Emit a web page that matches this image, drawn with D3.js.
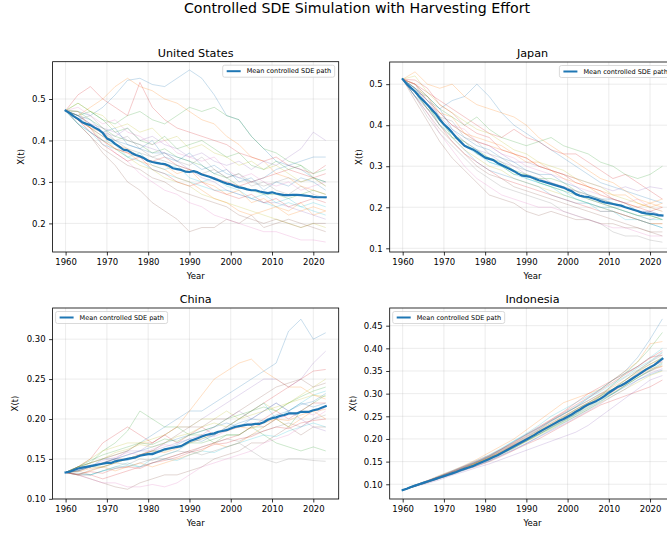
<!doctype html>
<html>
<head>
<meta charset="utf-8">
<title>Controlled SDE Simulation with Harvesting Effort</title>
<script src="https://cdn.jsdelivr.net/npm/d3@7"></script>
<style>
    body { margin: 0; background: #fff; }
    svg { font-family: "DejaVu Sans", sans-serif; display: block; }
</style>
</head>
<body>
<svg id="chart" width="667" height="533"></svg>
<script>
// years for the mean path (yearly) and for the sampled simulation paths (every 3 years)
const years = d3.range(1960, 2024);
const pathYears = d3.range(1960, 2024, 3);

const usMean = [
    .472,.466,.458,.452,.444,.440,.437,.431,.426,.418,
    .405,.400,.392,.385,.378,.376,.370,.365,.362,.357,
    .351,.348,.346,.344,.343,.339,.333,.331,.329,.325,
    .324,.326,.323,.318,.315,.312,.308,.304,.300,.296,
    .294,.290,.287,.285,.282,.280,.280,.277,.275,.273,
    .275,.272,.270,.268,.268,.269,.269,.268,.267,.266,
    .264,.263,.263,.263];
const usPaths = [
    [.472,.47,.46,.48,.51,.545,.55,.535,.53,.55,.57,.55,.51,.46,.45,.41,.38,.35,.34,.33,.31,.30],
    [.472,.46,.48,.50,.53,.55,.53,.52,.50,.49,.47,.45,.44,.41,.39,.36,.35,.32,.31,.29,.28,.27],
    [.472,.49,.47,.45,.44,.46,.47,.45,.44,.46,.48,.47,.48,.46,.45,.41,.38,.37,.35,.34,.31,.30],
    [.472,.51,.53,.50,.48,.46,.54,.48,.45,.43,.42,.41,.40,.39,.37,.36,.35,.36,.34,.33,.32,.34],
    [.472,.46,.44,.42,.41,.43,.40,.41,.39,.38,.36,.37,.35,.34,.35,.33,.35,.34,.36,.38,.42,.40],
    [.472,.44,.41,.37,.34,.30,.28,.25,.23,.21,.18,.19,.19,.21,.20,.22,.19,.20,.21,.20,.19,.18],
    [.472,.45,.42,.40,.37,.35,.32,.30,.28,.27,.25,.24,.22,.21,.20,.19,.18,.18,.17,.16,.16,.155],
    [.472,.46,.44,.42,.40,.38,.37,.36,.35,.34,.33,.32,.33,.31,.32,.30,.29,.30,.31,.30,.31,.29],
    [.472,.45,.43,.40,.38,.36,.34,.33,.31,.30,.29,.27,.26,.25,.24,.23,.22,.21,.20,.19,.20,.19],
    [.472,.44,.42,.39,.38,.36,.35,.33,.32,.31,.30,.29,.28,.28,.27,.26,.25,.24,.25,.24,.23,.22],
    [.472,.46,.43,.41,.40,.39,.38,.37,.37,.36,.35,.33,.34,.32,.31,.30,.31,.33,.34,.35,.36,.36],
    [.472,.45,.43,.41,.38,.37,.35,.34,.33,.31,.30,.28,.26,.25,.23,.22,.23,.24,.22,.23,.24,.23],
    [.472,.47,.45,.43,.41,.40,.39,.37,.38,.36,.35,.34,.32,.31,.29,.28,.27,.27,.26,.27,.28,.27],
    [.472,.45,.42,.40,.38,.37,.36,.35,.36,.34,.33,.32,.31,.30,.29,.30,.31,.32,.33,.32,.31,.32],
    [.472,.46,.44,.43,.42,.40,.39,.38,.37,.35,.33,.31,.30,.28,.27,.26,.25,.25,.24,.23,.22,.21],
    [.472,.44,.41,.38,.36,.34,.33,.31,.30,.28,.27,.26,.25,.24,.22,.21,.20,.21,.20,.19,.20,.20],
    [.472,.48,.46,.44,.45,.42,.41,.39,.40,.37,.36,.35,.36,.33,.31,.32,.30,.29,.30,.28,.29,.30],
    [.472,.45,.46,.43,.40,.41,.38,.36,.37,.35,.34,.36,.33,.31,.32,.29,.30,.28,.27,.29,.27,.26],
    [.472,.49,.47,.46,.43,.44,.42,.43,.40,.41,.38,.39,.37,.36,.34,.35,.33,.34,.32,.30,.31,.29],
    [.472,.44,.42,.40,.39,.36,.37,.34,.33,.34,.31,.30,.31,.29,.28,.26,.27,.25,.26,.24,.25,.24],
    [.472,.46,.45,.42,.43,.39,.38,.40,.36,.35,.37,.34,.32,.33,.30,.31,.28,.30,.29,.31,.30,.28],
    [.472,.47,.43,.42,.39,.38,.36,.35,.34,.32,.33,.30,.29,.27,.28,.25,.26,.24,.23,.25,.22,.23],
    [.472,.46,.47,.45,.42,.43,.40,.39,.41,.38,.39,.40,.38,.36,.37,.34,.33,.35,.33,.34,.32,.33],
    [.472,.45,.43,.39,.37,.35,.36,.33,.32,.30,.29,.30,.28,.27,.26,.27,.25,.26,.24,.25,.26,.25]
];

const jpMean = [
    .512,.500,.491,.482,.470,.460,.450,.439,.428,.414,
    .402,.393,.382,.370,.360,.350,.345,.341,.335,.328,
    .321,.318,.315,.308,.303,.298,.293,.288,.282,.277,
    .276,.274,.270,.266,.263,.260,.257,.254,.251,.248,
    .243,.239,.232,.228,.226,.225,.222,.219,.215,.212,
    .210,.208,.206,.204,.200,.197,.194,.191,.187,.185,
    .184,.183,.181,.180];
const jpPaths = [
    [.512,.50,.47,.44,.46,.47,.50,.47,.43,.40,.38,.36,.34,.32,.30,.28,.26,.25,.24,.23,.22,.21],
    [.512,.53,.50,.49,.50,.47,.45,.44,.43,.42,.40,.37,.35,.33,.31,.29,.27,.26,.24,.22,.21,.22],
    [.512,.49,.47,.44,.42,.40,.42,.39,.37,.36,.35,.36,.37,.35,.34,.33,.31,.30,.28,.27,.28,.30],
    [.512,.50,.48,.46,.44,.42,.40,.38,.37,.39,.37,.36,.34,.33,.33,.31,.29,.27,.28,.26,.24,.22],
    [.512,.49,.46,.43,.40,.38,.36,.35,.33,.31,.31,.30,.29,.28,.27,.26,.25,.24,.25,.24,.25,.245],
    [.512,.46,.41,.36,.32,.29,.26,.23,.22,.21,.19,.18,.19,.18,.17,.17,.16,.16,.15,.15,.14,.14],
    [.512,.47,.43,.38,.34,.30,.27,.25,.23,.22,.21,.20,.20,.19,.18,.17,.16,.15,.15,.14,.13,.13],
    [.512,.47,.42,.38,.35,.32,.29,.27,.25,.24,.23,.22,.21,.19,.18,.17,.16,.14,.13,.13,.12,.115],
    [.512,.48,.45,.40,.37,.34,.32,.30,.29,.27,.26,.25,.24,.23,.22,.21,.20,.19,.18,.17,.16,.16],
    [.512,.48,.44,.41,.38,.35,.33,.31,.30,.28,.27,.26,.25,.24,.22,.21,.20,.20,.19,.18,.17,.17],
    [.512,.47,.44,.40,.37,.34,.31,.29,.28,.27,.26,.25,.23,.22,.21,.21,.20,.19,.18,.17,.16,.15],
    [.512,.50,.46,.43,.40,.38,.36,.35,.34,.33,.32,.30,.29,.27,.26,.25,.23,.22,.21,.20,.21,.20],
    [.512,.49,.45,.41,.38,.36,.34,.32,.31,.29,.28,.27,.27,.26,.24,.23,.22,.21,.20,.19,.18,.17],
    [.512,.48,.44,.40,.36,.33,.31,.29,.27,.26,.25,.24,.23,.22,.21,.20,.19,.19,.18,.17,.16,.16],
    [.512,.49,.46,.42,.39,.36,.34,.33,.31,.30,.28,.27,.26,.25,.24,.23,.22,.21,.20,.19,.19,.18],
    [.512,.47,.43,.39,.36,.33,.30,.28,.27,.25,.24,.23,.22,.21,.20,.19,.18,.17,.16,.15,.14,.13],
    [.512,.50,.45,.43,.40,.39,.36,.35,.33,.32,.30,.29,.28,.27,.25,.24,.23,.22,.21,.22,.20,.19],
    [.512,.48,.47,.42,.41,.37,.36,.33,.32,.30,.29,.28,.26,.25,.24,.22,.21,.20,.19,.18,.17,.18],
    [.512,.52,.48,.45,.43,.41,.39,.38,.36,.34,.33,.31,.30,.29,.27,.26,.25,.23,.22,.21,.20,.19],
    [.512,.47,.45,.40,.38,.35,.34,.31,.30,.29,.27,.26,.25,.23,.22,.21,.19,.19,.17,.17,.16,.15],
    [.512,.49,.46,.44,.39,.37,.35,.34,.32,.31,.29,.28,.28,.26,.25,.23,.22,.22,.21,.19,.19,.18],
    [.512,.50,.47,.43,.42,.38,.37,.36,.35,.33,.31,.31,.29,.28,.27,.25,.24,.23,.23,.21,.20,.21],
    [.512,.48,.44,.42,.37,.36,.33,.32,.30,.28,.28,.26,.25,.24,.23,.22,.21,.20,.19,.18,.18,.17],
    [.512,.51,.49,.45,.43,.40,.38,.37,.34,.33,.32,.30,.29,.28,.26,.25,.24,.22,.21,.20,.19,.20]
];

const cnMean = [
    .133,.134,.136,.138,.139,.140,.141,.142,.143,.144,
    .145,.145,.147,.148,.149,.150,.151,.152,.154,.155,
    .156,.156,.158,.160,.162,.163,.164,.165,.166,.169,
    .172,.174,.176,.178,.180,.181,.182,.184,.185,.186,
    .188,.190,.191,.192,.193,.193,.194,.194,.196,.199,
    .201,.202,.204,.205,.207,.207,.207,.209,.209,.209,
    .211,.212,.214,.216];
const cnPaths = [
    [.133,.135,.14,.15,.155,.16,.17,.18,.19,.20,.21,.21,.22,.23,.24,.25,.26,.27,.31,.325,.30,.308],
    [.133,.14,.145,.15,.155,.16,.17,.17,.18,.19,.21,.23,.25,.26,.27,.275,.26,.25,.24,.24,.23,.225],
    [.133,.14,.145,.16,.17,.185,.21,.20,.19,.19,.18,.18,.17,.18,.18,.19,.19,.20,.19,.21,.22,.23],
    [.133,.14,.15,.17,.18,.19,.18,.17,.18,.17,.18,.19,.18,.19,.20,.21,.22,.23,.24,.25,.26,.262],
    [.133,.135,.14,.145,.15,.16,.16,.17,.18,.19,.19,.20,.21,.22,.23,.24,.25,.25,.24,.25,.27,.285],
    [.133,.13,.125,.12,.115,.112,.12,.125,.13,.13,.135,.14,.15,.155,.16,.17,.17,.18,.19,.18,.19,.19],
    [.133,.13,.125,.12,.12,.115,.115,.118,.115,.12,.13,.14,.145,.15,.155,.16,.17,.175,.18,.19,.20,.21],
    [.133,.135,.13,.135,.14,.14,.145,.15,.15,.155,.16,.155,.16,.165,.17,.16,.15,.145,.15,.15,.148,.147],
    [.133,.14,.15,.16,.165,.17,.17,.175,.18,.19,.19,.20,.20,.21,.20,.21,.22,.21,.22,.23,.24,.25],
    [.133,.13,.13,.135,.14,.145,.14,.15,.155,.16,.17,.175,.18,.19,.20,.21,.22,.20,.21,.22,.23,.235],
    [.133,.14,.145,.15,.15,.155,.16,.165,.17,.175,.18,.185,.19,.195,.19,.20,.21,.22,.21,.22,.215,.22],
    [.133,.13,.135,.14,.135,.14,.145,.14,.145,.15,.155,.16,.17,.165,.17,.18,.19,.20,.19,.20,.21,.20],
    [.133,.135,.14,.14,.145,.15,.155,.16,.16,.165,.17,.17,.175,.18,.18,.19,.18,.17,.165,.16,.165,.16],
    [.133,.13,.13,.125,.13,.135,.14,.145,.15,.155,.16,.165,.17,.175,.18,.19,.20,.21,.20,.21,.22,.22],
    [.133,.135,.14,.145,.15,.155,.16,.16,.165,.17,.175,.18,.19,.20,.21,.20,.21,.22,.21,.20,.19,.185],
    [.133,.14,.14,.145,.15,.15,.155,.16,.17,.18,.19,.19,.20,.20,.21,.22,.23,.24,.245,.25,.24,.245],
    [.133,.137,.14,.148,.152,.158,.155,.162,.168,.165,.172,.18,.178,.185,.19,.195,.19,.20,.205,.21,.205,.215],
    [.133,.13,.136,.14,.145,.143,.15,.148,.155,.16,.158,.165,.17,.175,.172,.18,.185,.19,.195,.19,.20,.205],
    [.133,.138,.145,.15,.158,.162,.168,.165,.17,.178,.182,.19,.195,.19,.20,.205,.21,.215,.22,.225,.23,.228],
    [.133,.132,.13,.135,.138,.142,.14,.145,.15,.148,.155,.16,.158,.165,.17,.175,.18,.178,.185,.19,.195,.19],
    [.133,.136,.142,.145,.15,.148,.155,.158,.162,.168,.175,.172,.18,.188,.195,.20,.198,.205,.21,.218,.222,.232],
    [.133,.134,.138,.14,.145,.15,.155,.16,.158,.163,.17,.175,.182,.185,.19,.188,.195,.20,.198,.205,.21,.212],
    [.133,.14,.148,.155,.16,.165,.17,.168,.175,.172,.18,.185,.19,.20,.205,.21,.215,.21,.22,.228,.235,.24],
    [.133,.131,.134,.132,.138,.14,.138,.145,.148,.152,.158,.162,.168,.17,.175,.178,.185,.19,.188,.195,.198,.20]
];

const idMean = [
    .087,.090,.094,.097,.100,.103,.106,.109,.112,.115,
    .118,.121,.124,.127,.131,.134,.137,.140,.144,.148,
    .152,.156,.160,.164,.169,.174,.179,.184,.189,.194,
    .199,.204,.209,.215,.220,.225,.230,.235,.240,.244,
    .249,.254,.260,.265,.271,.276,.280,.284,.289,.295,
    .302,.308,.314,.318,.323,.329,.335,.341,.347,.353,
    .358,.363,.370,.377];
const idPaths = [
    [.087,.097,.106,.118,.128,.14,.15,.162,.178,.195,.21,.225,.24,.255,.27,.29,.31,.33,.35,.38,.42,.465],
    [.087,.098,.108,.12,.13,.142,.155,.17,.185,.20,.22,.24,.26,.28,.29,.30,.31,.33,.35,.37,.41,.415],
    [.087,.096,.105,.115,.124,.134,.145,.155,.168,.18,.195,.21,.225,.24,.255,.275,.295,.32,.345,.37,.40,.435],
    [.087,.096,.104,.113,.122,.132,.14,.15,.162,.175,.188,.20,.215,.23,.245,.26,.275,.285,.295,.305,.315,.33],
    [.087,.095,.102,.11,.12,.128,.137,.145,.155,.165,.175,.185,.195,.205,.215,.23,.25,.27,.29,.31,.33,.34],
    [.087,.097,.106,.116,.126,.137,.148,.16,.175,.19,.205,.22,.24,.255,.27,.285,.30,.31,.325,.345,.36,.37],
    [.087,.097,.105,.114,.124,.134,.144,.154,.168,.182,.196,.212,.228,.242,.258,.275,.29,.305,.32,.34,.35,.36],
    [.087,.098,.107,.117,.127,.138,.149,.16,.174,.188,.203,.22,.235,.25,.265,.28,.296,.31,.33,.35,.37,.39],
    [.087,.097,.105,.114,.123,.133,.143,.153,.166,.18,.194,.208,.222,.236,.25,.265,.28,.295,.31,.325,.34,.35],
    [.087,.098,.108,.119,.13,.141,.153,.165,.18,.196,.212,.23,.25,.265,.28,.295,.31,.33,.345,.36,.38,.40],
    [.087,.096,.104,.113,.122,.131,.141,.151,.164,.177,.19,.205,.22,.235,.25,.265,.282,.30,.318,.335,.35,.365],
    [.087,.097,.106,.116,.126,.136,.147,.158,.172,.186,.20,.216,.232,.247,.262,.278,.293,.308,.325,.34,.355,.36],
    [.087,.096,.105,.115,.125,.135,.146,.157,.17,.185,.20,.217,.232,.248,.265,.28,.295,.31,.33,.35,.365,.38],
    [.087,.097,.107,.117,.128,.139,.15,.162,.177,.193,.21,.227,.243,.26,.28,.30,.315,.33,.345,.36,.38,.385],
    [.087,.096,.104,.114,.124,.133,.142,.152,.164,.176,.19,.204,.218,.232,.247,.262,.278,.295,.31,.33,.345,.355],
    [.087,.098,.107,.117,.127,.137,.148,.16,.173,.187,.20,.215,.23,.245,.26,.275,.29,.305,.325,.34,.36,.375],
    [.087,.097,.107,.116,.127,.137,.146,.158,.17,.186,.20,.214,.23,.246,.262,.277,.29,.306,.322,.342,.358,.372],
    [.087,.096,.105,.116,.125,.137,.149,.162,.176,.19,.206,.222,.238,.254,.27,.284,.30,.318,.336,.352,.37,.385],
    [.087,.097,.106,.115,.124,.135,.147,.159,.171,.184,.198,.213,.227,.243,.258,.272,.289,.302,.318,.336,.35,.362],
    [.087,.098,.107,.117,.128,.138,.15,.163,.178,.194,.21,.224,.24,.256,.272,.29,.305,.322,.338,.357,.372,.392],
    [.087,.096,.106,.115,.125,.134,.144,.156,.168,.18,.196,.21,.226,.24,.255,.27,.287,.30,.315,.33,.342,.352],
    [.087,.097,.106,.117,.126,.137,.148,.158,.172,.188,.202,.218,.235,.25,.266,.28,.298,.315,.33,.347,.365,.378],
    [.087,.096,.105,.114,.124,.134,.145,.157,.17,.183,.196,.21,.224,.238,.253,.268,.284,.30,.318,.335,.352,.368],
    [.087,.098,.108,.118,.129,.14,.152,.164,.178,.192,.208,.224,.242,.258,.275,.292,.308,.325,.342,.36,.378,.395]
];

const xTicks = [1960, 1970, 1980, 1990, 2000, 2010, 2020];

const panels = [
    {title: "United States", mean: usMean, paths: usPaths, yTicks: [0.2, 0.3, 0.4, 0.5], fmt: ".1f",
     box: [52.6, 338.7, 61.7, 252], yDomain: [0.131, 0.590], legend: "right", ylabX: 21},
    {title: "Japan", mean: jpMean, paths: jpPaths, yTicks: [0.1, 0.2, 0.3, 0.4, 0.5], fmt: ".1f",
     box: [389.7, 675.4, 62, 252], yDomain: [0.091, 0.554], legend: "right", ylabX: 359},
    {title: "China", mean: cnMean, paths: cnPaths, yTicks: [0.10, 0.15, 0.20, 0.25, 0.30], fmt: ".2f",
     box: [52.6, 338.7, 308, 499], yDomain: [0.0998, 0.339], legend: "left", ylabX: 15},
    {title: "Indonesia", mean: idMean, paths: idPaths, yTicks: [0.10, 0.15, 0.20, 0.25, 0.30, 0.35, 0.40, 0.45], fmt: ".2f",
     box: [389.7, 675.4, 308, 499], yDomain: [0.0675, 0.489], legend: "left", ylabX: 353}
];

const tab10 = d3.schemeCategory10;

const svg = d3.select("#chart");

svg.append("text")
    .attr("x", 357).attr("y", 12.5)
    .attr("text-anchor", "middle")
    .attr("font-size", 14.2)
    .attr("fill", "#000")
    .text("Controlled SDE Simulation with Harvesting Effort");

panels.forEach((p, k) => {
    const [x0, x1, y0, y1] = p.box;
    const x = d3.scaleLinear().domain([1956.85, 2026.15]).range([x0, x1]);
    const y = d3.scaleLinear().domain(p.yDomain).range([y1, y0]);

    const g = svg.append("g");
    const clipId = "clip" + k;
    g.append("clipPath").attr("id", clipId)
        .append("rect").attr("x", x0).attr("y", y0).attr("width", x1 - x0).attr("height", y1 - y0);

    // grid
    g.append("g").selectAll("line").data(xTicks).join("line")
        .attr("x1", d => x(d)).attr("x2", d => x(d)).attr("y1", y0).attr("y2", y1)
        .attr("stroke", "#b0b0b0").attr("stroke-opacity", 0.3).attr("stroke-width", 0.8);
    g.append("g").selectAll("line").data(p.yTicks).join("line")
        .attr("x1", x0).attr("x2", x1).attr("y1", d => y(d)).attr("y2", d => y(d))
        .attr("stroke", "#b0b0b0").attr("stroke-opacity", 0.3).attr("stroke-width", 0.8);

    const plot = g.append("g").attr("clip-path", `url(#${clipId})`);

    const pathLine = d3.line().x((d, i) => x(pathYears[i])).y(d => y(d));
    plot.append("g").selectAll("path").data(p.paths).join("path")
        .attr("d", pathLine)
        .attr("fill", "none")
        .attr("stroke", (d, i) => tab10[i % 10])
        .attr("stroke-opacity", 0.3)
        .attr("stroke-width", 0.8);

    const meanLine = d3.line().x((d, i) => x(years[i])).y(d => y(d));
    plot.append("path").datum(p.mean)
        .attr("d", meanLine)
        .attr("fill", "none")
        .attr("stroke", "#1f77b4")
        .attr("stroke-width", 2.2)
        .attr("stroke-linejoin", "round")
        .attr("stroke-linecap", "square");

    // axes
    const xAxis = g.append("g").attr("transform", `translate(0,${y1})`)
        .call(d3.axisBottom(x).tickValues(xTicks).tickFormat(d3.format("d")).tickSize(3.5).tickPadding(3));
    const yAxis = g.append("g").attr("transform", `translate(${x0},0)`)
        .call(d3.axisLeft(y).tickValues(p.yTicks).tickFormat(d3.format(p.fmt)).tickSize(3.5).tickPadding(3.5));
    [xAxis, yAxis].forEach(a => {
        a.select(".domain").remove();
        a.selectAll("text").attr("font-size", 8.5).attr("font-family", "DejaVu Sans").attr("fill", "#000");
        a.selectAll("line").attr("stroke", "#000").attr("stroke-width", 0.8);
    });

    g.append("rect")
        .attr("x", x0).attr("y", y0).attr("width", x1 - x0).attr("height", y1 - y0)
        .attr("fill", "none").attr("stroke", "#000").attr("stroke-width", 0.8);

    g.append("text")
        .attr("x", (x0 + x1) / 2).attr("y", y0 - 5)
        .attr("text-anchor", "middle").attr("font-size", 11.2)
        .text(p.title);

    g.append("text")
        .attr("x", (x0 + x1) / 2).attr("y", y1 + 27)
        .attr("text-anchor", "middle").attr("font-size", 8.5)
        .text("Year");

    g.append("text")
        .attr("transform", `translate(${p.ylabX},${(y0 + y1) / 2}) rotate(-90)`)
        .attr("text-anchor", "middle").attr("dy", "0.35em").attr("font-size", 8.5)
        .text("X(t)");

    // legend
    const lw = 112, lh = 12;
    const lx = p.legend === "right" ? x1 - 4 - lw : x0 + 3;
    const ly = y0 + 3.5;
    const leg = g.append("g").attr("transform", `translate(${lx},${ly})`);
    leg.append("rect").attr("width", lw).attr("height", lh).attr("rx", 2)
        .attr("fill", "#fff").attr("fill-opacity", 0.8)
        .attr("stroke", "#d0d0d0").attr("stroke-width", 0.8);
    leg.append("line").attr("x1", 4).attr("x2", 18).attr("y1", lh / 2).attr("y2", lh / 2)
        .attr("stroke", "#1f77b4").attr("stroke-width", 2);
    leg.append("text").attr("x", 24).attr("y", lh / 2).attr("dy", "0.35em")
        .attr("font-size", 6.5).attr("fill", "#000")
        .text("Mean controlled SDE path");
});
</script>
</body>
</html>
